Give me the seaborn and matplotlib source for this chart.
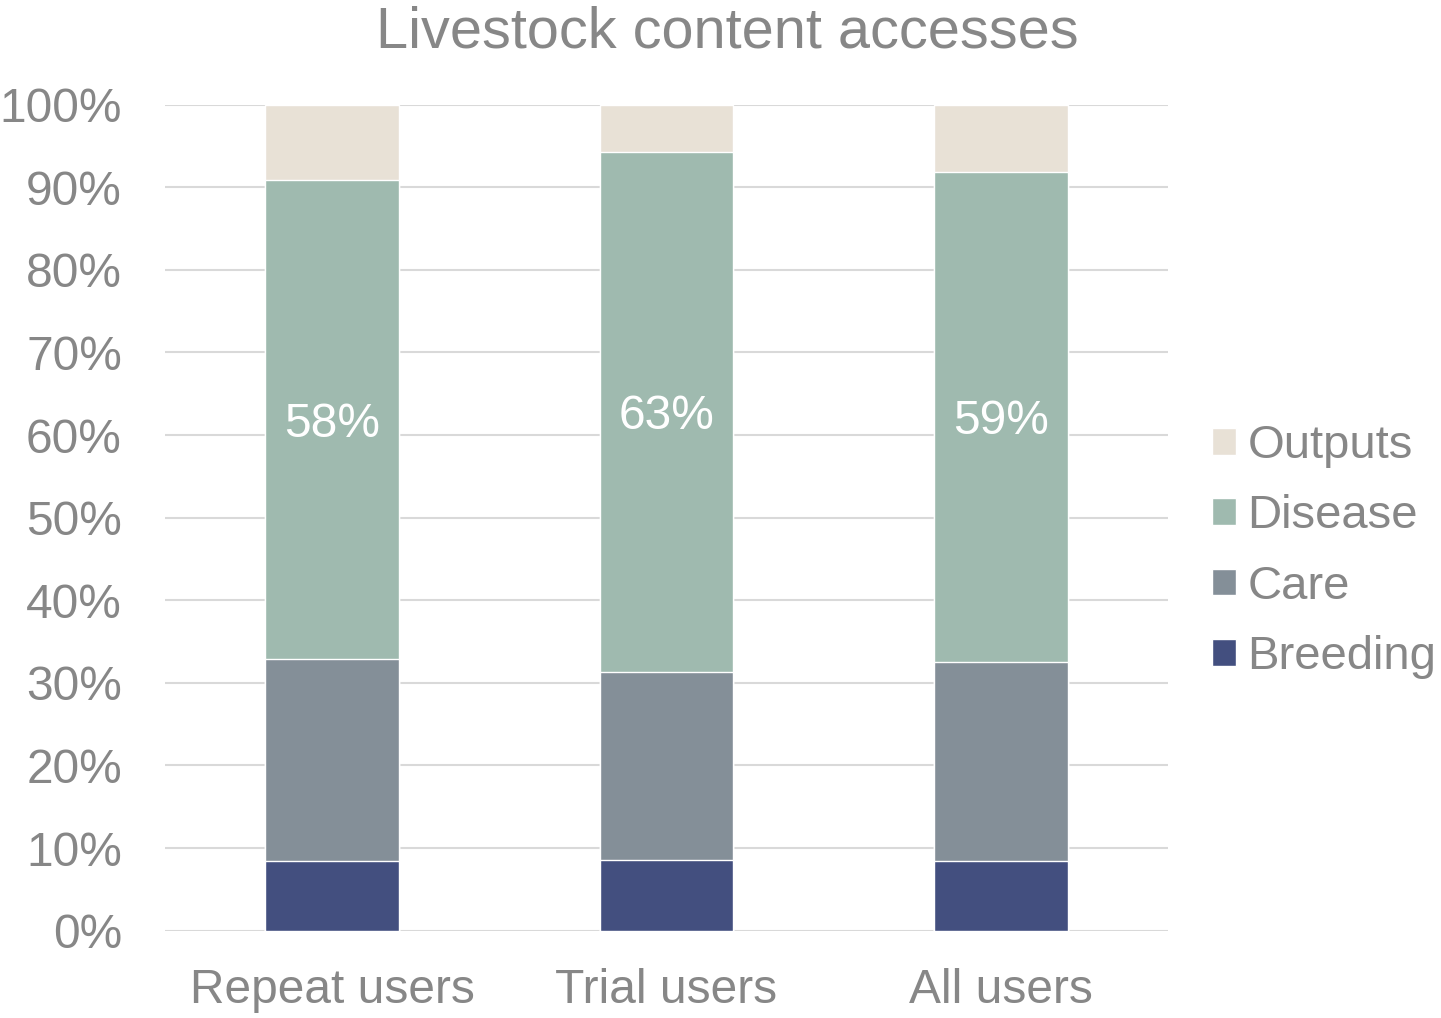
import numpy as np
import pandas as pd
import matplotlib
matplotlib.use("Agg")
import matplotlib.pyplot as plt
from matplotlib.patches import Patch
import seaborn as sns

# =============================
# DATOS
# =============================
users = ["Repeat users", "Trial users", "All users"]
breeding = [8.4, 8.5, 8.4]
care = [24.5, 22.8, 24.1]
disease = [58.0, 63.0, 59.4]
outputs = [9.1, 5.7, 8.1]

layers = ["Breeding", "Care", "Disease", "Outputs"]
colors = {"Breeding": "#434F7F", "Care": "#848F98",
          "Disease": "#9FBAAF", "Outputs": "#E8E1D6"}
TEXT = "#878787"
FS = 34.5

df = pd.DataFrame({"user": users, "Breeding": breeding, "Care": care,
                   "Disease": disease, "Outputs": outputs})
cum = df[layers].cumsum(axis=1)

# =============================
# FIGURA
# =============================
sns.set_style("white")
plt.rcParams["font.family"] = ["Liberation Sans", "DejaVu Sans"]

fig = plt.figure(figsize=(14.41, 10.18), dpi=100)
ax = fig.add_axes([0.1145, 0.0858, 0.8106 - 0.1145, 0.8972 - 0.0858])

# barras apiladas: se dibujan los totales acumulados de arriba hacia abajo
for layer in reversed(layers):
    sns.barplot(x=df["user"], y=cum[layer], color=colors[layer],
                width=0.4, saturation=1, ax=ax, zorder=3)

# etiquetas de Disease
for i, (lo, v) in enumerate(zip(cum["Care"], disease)):
    ax.text(i, lo + v / 2, f"{v:.0f}%", ha="center", va="center_baseline",
            color="white", fontsize=FS, zorder=5)

ax.set_ylim(0, 100)
ax.set_xlim(-0.5, 2.5)
ax.set_yticks(np.arange(0, 101, 10))
ax.set_yticklabels([f"{t}%" for t in range(0, 101, 10)])
ax.yaxis.grid(True, color="#D9D9D9", linewidth=1.5, zorder=0)
ax.set_axisbelow(True)
for s in ax.spines.values():
    s.set_visible(False)
ax.tick_params(axis="both", length=0, labelsize=FS, labelcolor=TEXT)
ax.tick_params(axis="y", pad=31)
ax.tick_params(axis="x", pad=27)
ax.set_xlabel("")
ax.set_ylabel("")

handles = [Patch(facecolor=colors[l], label=l) for l in reversed(layers)]
fig.legend(handles=handles, loc="center left",
           bbox_to_anchor=(1212 / 1441, 1 - 551.5 / 1018),
           frameon=False, fontsize=34, labelcolor=TEXT,
           handlelength=0.5, handleheight=0.5, handletextpad=0.25,
           labelspacing=0.56, borderpad=0, borderaxespad=0)

fig.text(727 / 1441, 1 - 33 / 1018, "Livestock content accesses",
         ha="center", va="center", fontsize=41.5, color=TEXT)

fig.savefig("out.png", dpi=100)
